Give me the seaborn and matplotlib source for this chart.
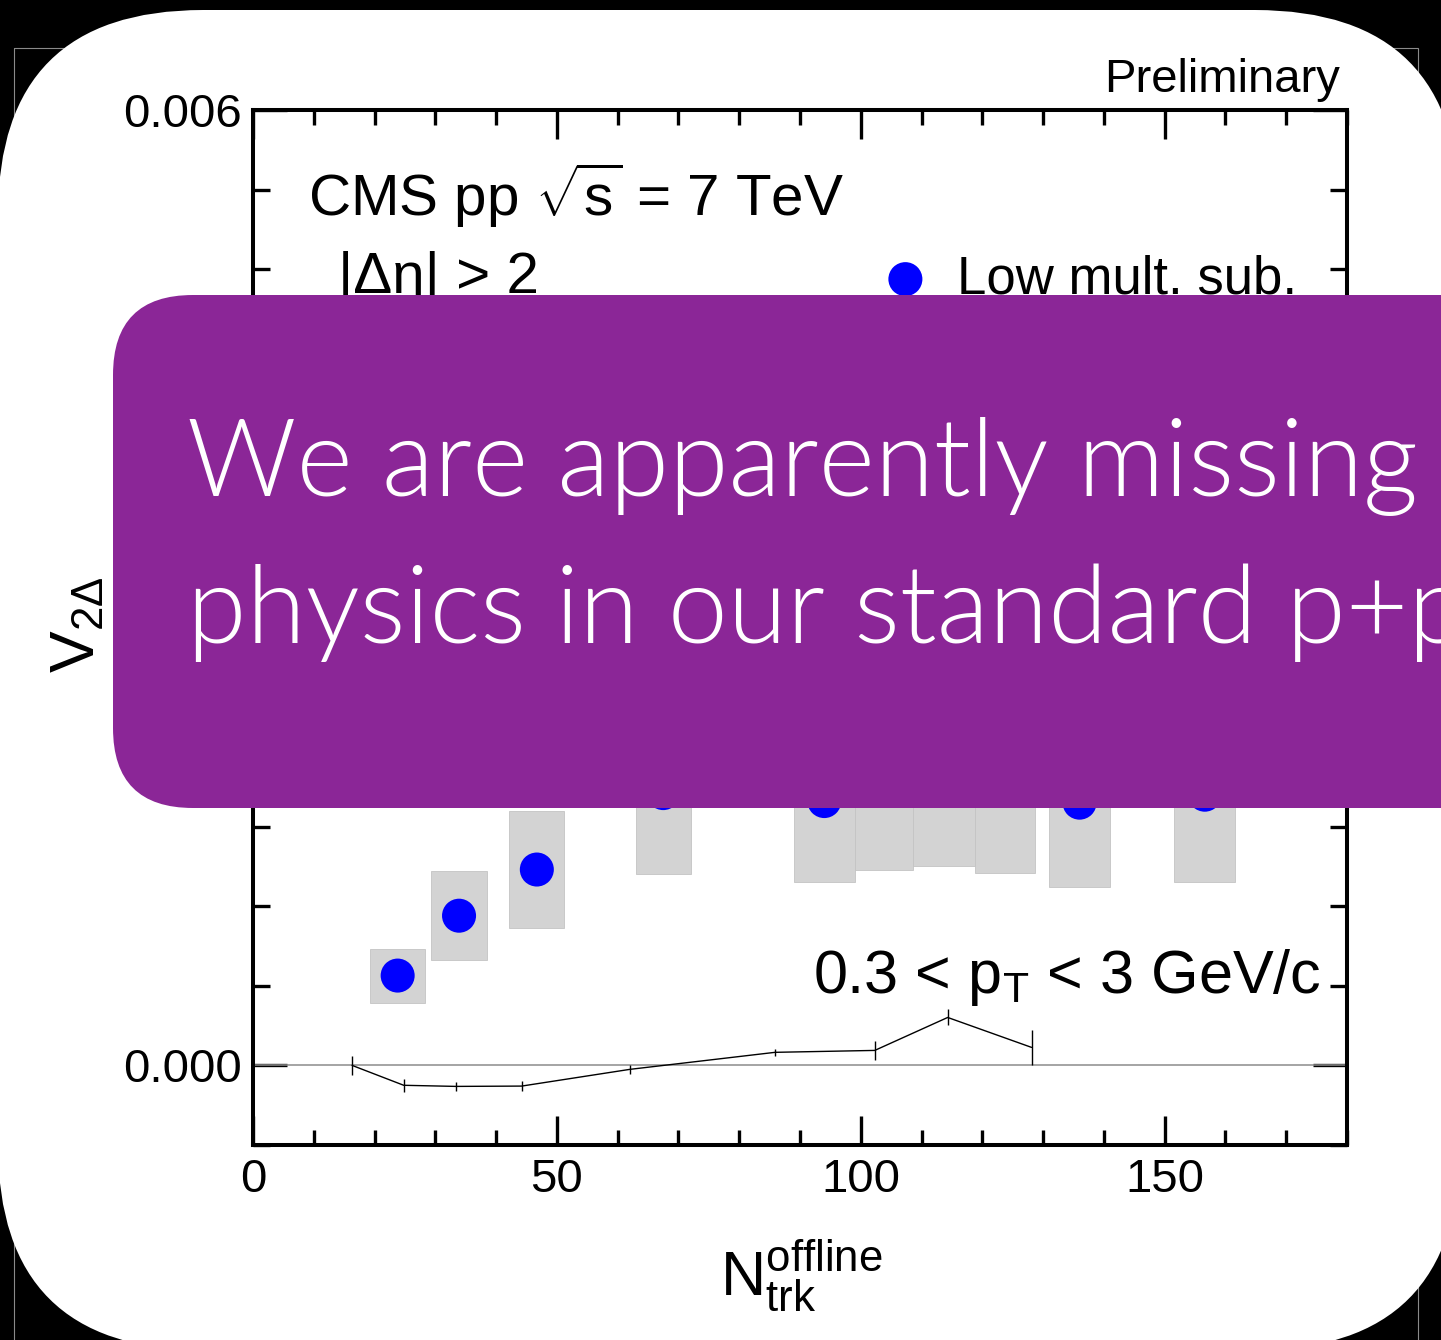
import numpy as np
import pandas as pd
import matplotlib
matplotlib.use("Agg")
import matplotlib.pyplot as plt
import seaborn as sns
from matplotlib.patches import FancyBboxPatch, Rectangle
from matplotlib.ticker import MultipleLocator, FixedLocator, FuncFormatter

# ---------------- data ----------------
ntrk = [23.8, 33.9, 46.7, 67.5, 94.0, 103.8, 113.7, 123.7, 136.0, 156.6]
v2 = [0.000564, 0.00094, 0.00123, 0.00171, 0.00166, 0.00178, 0.00180, 0.00177, 0.00165, 0.00170]
sys_half = [0.000170, 0.00028, 0.00037, 0.00051, 0.00051, 0.00055, 0.00055, 0.00056, 0.00053, 0.00055]
box_width = [9.1, 9.1, 9.1, 9.0, 10.0, 9.6, 10.2, 9.8, 10.0, 10.1]

diff_ntrk = [16.3, 24.8, 33.4, 44.2, 62.0, 85.9, 102.3, 114.3, 128.1]
diff_v2 = [0.0, -0.000125, -0.000132, -0.000130, -0.000025, 0.000082, 0.000094, 0.000301, 0.000113]
diff_err = [0.00006, 0.00004, 0.00003, 0.00003, 0.00003, 0.00002, 0.00006, 0.00005, 0.00011]

x_ticks = [0, 50, 100, 150]
y_ticks = [0.000, 0.002, 0.004, 0.006]

series_label = "Low mult. sub."
headline = ["We are apparently missing", "physics in our standard p+p"]

# ---------------- style ----------------
sns.set_style("ticks")
plt.rcParams["font.family"] = ["Liberation Sans", "DejaVu Sans"]
plt.rcParams["text.color"] = "black"
plt.rcParams["axes.labelcolor"] = "black"
plt.rcParams["xtick.color"] = "black"
plt.rcParams["ytick.color"] = "black"
plt.rcParams["mathtext.fontset"] = "custom"
plt.rcParams["mathtext.rm"] = "Liberation Sans"
plt.rcParams["mathtext.it"] = "Liberation Sans:italic"
plt.rcParams["mathtext.bf"] = "Liberation Sans:bold"
plt.rcParams["mathtext.sf"] = "Liberation Sans"

W, H = 1441, 1340
fx = lambda x: x / W
fy = lambda y: 1 - y / H

fig = plt.figure(figsize=(W / 100, H / 100), dpi=100, facecolor="black")

# slide background: black with white rounded panel
bg = fig.add_axes([0, 0, 1, 1], zorder=-5)
bg.set_xlim(0, W)
bg.set_ylim(H, 0)
bg.axis("off")
bg.add_patch(Rectangle((14, 48), 1404, 1400, fill=False, edgecolor="#8a8a8a", lw=0.8))
bg.add_patch(FancyBboxPatch((-2, 10), 1462, 1340, boxstyle="round,pad=0,rounding_size=205",
                            facecolor="white", edgecolor="none"))

# ---------------- chart ----------------
ax = fig.add_axes([253 / W, 1 - 1145 / H, 1094 / W, 1035 / H], zorder=1)
ax.set_facecolor("white")
ax.set_xlim(0, 180)
ax.set_ylim(-0.0005, 0.006)

lo = np.array(v2) - np.array(sys_half)
ax.bar(ntrk, height=2 * np.array(sys_half), bottom=lo, width=box_width,
       color="#d3d3d3", edgecolor="#c4c4c4", linewidth=0.6, zorder=1)
ax.axhline(0, color="#8c8c8c", lw=1.1, zorder=1.5)

df_diff = pd.DataFrame({"n": diff_ntrk, "v": diff_v2})
sns.lineplot(data=df_diff, x="n", y="v", ax=ax, color="black", lw=1.0, zorder=2)
ax.errorbar(diff_ntrk, diff_v2, yerr=diff_err, fmt="none", ecolor="black",
            elinewidth=1.0, capsize=0, zorder=2)

df_pts = pd.DataFrame({"n": ntrk, "v": v2})
sns.scatterplot(data=df_pts, x="n", y="v", ax=ax, color="#0000ff", s=600,
                edgecolor="none", linewidth=0, zorder=3, label=series_label)

ax.xaxis.set_major_locator(FixedLocator(x_ticks))
ax.xaxis.set_minor_locator(MultipleLocator(10))
ax.yaxis.set_major_locator(FixedLocator(y_ticks))
ax.yaxis.set_minor_locator(MultipleLocator(0.0005))
ax.xaxis.set_major_formatter(FuncFormatter(lambda v, p: f"{v:.0f}"))
ax.yaxis.set_major_formatter(FuncFormatter(lambda v, p: f"{v:.3f}"))

ax.tick_params(which="both", direction="in", top=True, right=True, width=2.4,
               colors="black", labelcolor="black")
ax.tick_params(axis="x", which="major", length=21, pad=9, labelsize=34)
ax.tick_params(axis="x", which="minor", length=10.5)
ax.tick_params(axis="y", which="major", length=24.5, pad=8, labelsize=34)
ax.tick_params(axis="y", which="minor", length=12)
for s in ax.spines.values():
    s.set_linewidth(2.9)
    s.set_color("black")
ax.set_xlabel("")
ax.set_ylabel("")

leg = ax.legend(loc="center left", bbox_to_anchor=(fx(879), fy(279)), bbox_transform=fig.transFigure,
                frameon=False, fontsize=38, handlelength=1.0, handletextpad=0.48,
                borderpad=0, borderaxespad=0, scatterpoints=1)
for t in leg.get_texts():
    t.set_color("black")

fig.text(fx(1340), fy(92), "Preliminary", ha="right", va="baseline", size=34, color="black")
fig.text(fx(308), fy(216), r"CMS pp $\sqrt{\rm s}$ = 7 TeV", ha="left", va="baseline", size=42, color="black")
fig.text(fx(338), fy(293), "|Δη| > 2", ha="left", va="baseline", size=42, color="black")
fig.text(fx(813), fy(993), r"0.3 < p$_{\rm T}$ < 3 GeV/c", ha="left", va="baseline", size=44, color="black")
fig.text(fx(720), fy(1295), r"N$_{\rm trk}^{\rm offline}$", ha="left", va="baseline", size=45, color="black")
fig.text(fx(78), fy(625), r"V$_{2\Delta}$", rotation=90, ha="center", va="center", size=45, color="black")

# ---------------- overlay callout ----------------
ov = fig.add_axes([0, 0, 1, 1], zorder=10)
ov.set_xlim(0, W)
ov.set_ylim(H, 0)
ov.axis("off")
ov.patch.set_alpha(0)
ov.add_patch(FancyBboxPatch((113, 295), 1600, 513, boxstyle="round,pad=0,rounding_size=80",
                            facecolor="#8b2697", edgecolor="none"))
ov.text(187, 496, headline[0], color="white", fontfamily="Lato", fontweight=300,
        size=77.5, ha="left", va="baseline")
ov.text(187, 643, headline[1], color="white", fontfamily="Lato", fontweight=300,
        size=77.5, ha="left", va="baseline")

fig.savefig("out.png", dpi=100, facecolor="black")
